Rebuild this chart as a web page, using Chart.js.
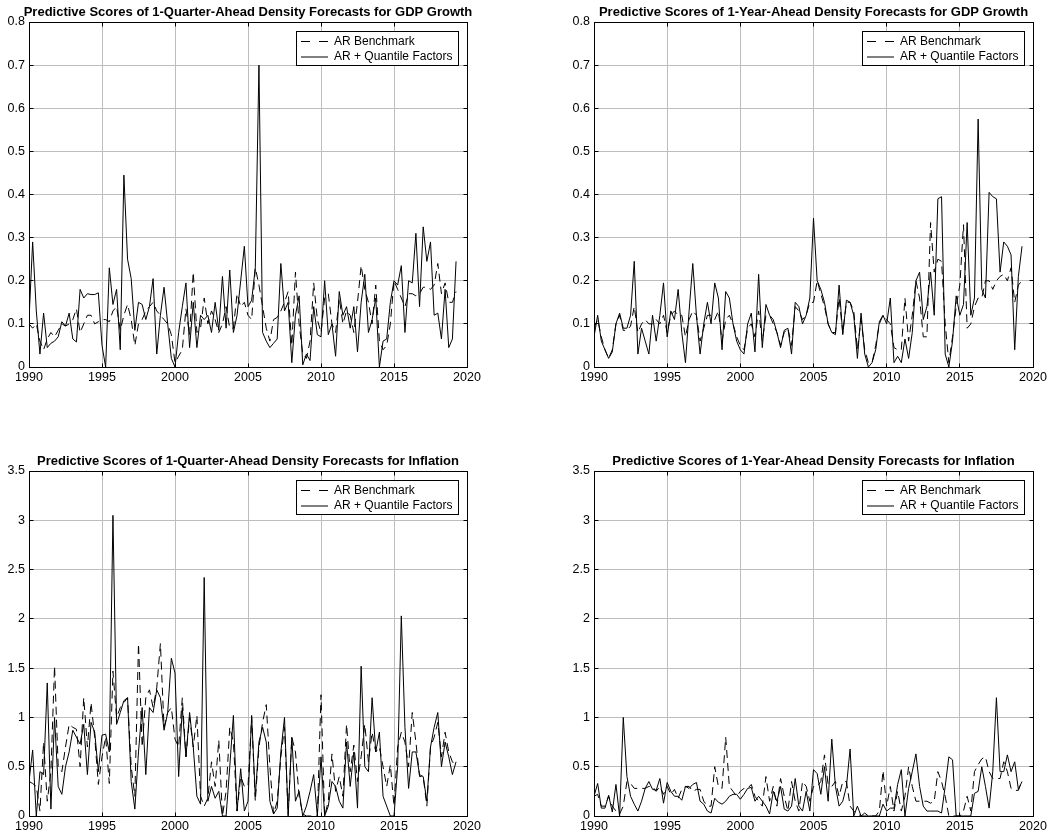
<!DOCTYPE html>
<html>
<head>
<meta charset="utf-8">
<script src="https://cdn.jsdelivr.net/npm/chart.js@4.4.1/dist/chart.umd.min.js"></script>
<style>
  html, body { margin: 0; padding: 0; background: #fff; overflow: hidden; }
  #page { position: relative; width: 1051px; height: 838px; overflow: hidden; }
  .panel { position: absolute; }
</style>
</head>
<body>
<div id="page">
  <div class="panel" style="left:0;top:0;width:490px;height:389px"><canvas id="gdpQ"></canvas></div>
  <div class="panel" style="left:565px;top:0;width:486px;height:389px"><canvas id="gdpY"></canvas></div>
  <div class="panel" style="left:0;top:449px;width:490px;height:389px"><canvas id="infQ"></canvas></div>
  <div class="panel" style="left:565px;top:449px;width:486px;height:389px"><canvas id="infY"></canvas></div>
</div>
<script>
// quarterly dates, 1990Q1 .. 2019Q2
const quarters = Array.from({ length: 118 }, (_, i) => 1990 + i / 4);

const seriesNames = ['AR Benchmark', 'AR + Quantile Factors'];

// 1-quarter-ahead, GDP growth
const gdpQ_ar = [
  .1, .09, .1, .06, .04, .065, .08, .07, .085, .1,
  .095, .1, .11, .135, .08, .1, .12, .12, .1, .105,
  .11, .11, .105, .13, .14, .085, .12, .145, .11, .05,
  .1, .11, .13, .14, .15, .13, .12, .11, .1, .075,
  .01, .025, .04, .135, .075, .22, .08, .09, .16, .1,
  .13, .11, .08, .1, .14, .09, .09, .17, .14, .15,
  .12, .11, .23, .19, .14, .09, .06, .11, .115, .13,
  .15, .175, .05, .22, .1, .03, .02, .06, .195, .11,
  .08, .16, .17, .1, .08, .16, .1, .13, .12, .08,
  .15, .235, .18, .15, .1, .19, .06, .04, .05, .1,
  .2, .18, .16, .14, .17, .17, .165, .17, .185, .185,
  .18, .19, .24, .17, .195, .15, .15, .175
];
const gdpQ_qf = [
  .11, .29, .13, .03, .125, .045, .055, .06, .07, .105,
  .095, .125, .065, .058, .18, .16, .17, .168, .168, .172,
  .05, 0, .23, .145, .18, .04, .445, .25, .205, .085,
  .15, .145, .11, .14, .205, .03, .12, .185, .1, .02,
  0, .08, .14, .195, .045, .15, .045, .12, .11, .12,
  .08, .15, .085, .21, .09, .225, .08, .12, .2, .28,
  .14, .155, .23, .70, .08, .06, .045, .055, .065, .24,
  .13, .15, .01, .12, .165, .005, .03, .015, .14, .075,
  .07, .2, .075, .1, .025, .175, .12, .14, .09, .14,
  .035, .15, .215, .08, .11, .16, 0, .06, .065, .15,
  .2, .19, .235, .08, .2, .195, .31, .14, .325, .245,
  .29, .12, .125, .065, .18, .045, .065, .245
];

// 1-year-ahead, GDP growth
const gdpY_ar = [
  .09, .11, .07, .04, .02, .04, .1, .12, .085, .085,
  .095, .14, .08, .1, .11, .1, .1, .11, .1, .12,
  .08, .12, .13, .12, .12, .07, .11, .13, .12, .06,
  .09, .12, .12, .11, .13, .06, .11, .12, .1, .07,
  .05, .04, .09, .1, .07, .13, .06, .12, .12, .1,
  .08, .05, .08, .09, .05, .14, .13, .11, .12, .15,
  .15, .2, .17, .14, .1, .08, .08, .16, .08, .15,
  .15, .13, .04, .11, .04, .01, .01, .05, .1, .12,
  .11, .1, .045, .04, .04, .16, .06, .12, .2, .16,
  .07, .07, .335, .22, .25, .245, .1, .01, .07, .14,
  .19, .33, .09, .1, .14, .16, .16, .2, .2, .18,
  .2, .21, .215, .2, .23, .15, .19, .2
];
const gdpY_qf = [
  .07, .12, .06, .04, .02, .035, .1, .125, .09, .09,
  .12, .245, .03, .09, .06, .03, .12, .06, .12, .195,
  .07, .13, .11, .18, .08, .01, .13, .24, .12, .03,
  .1, .15, .1, .195, .16, .04, .175, .16, .1, .06,
  .04, .03, .1, .125, .035, .215, .045, .145, .12, .11,
  .08, .045, .085, .09, .03, .15, .14, .1, .12, .16,
  .345, .2, .18, .15, .1, .08, .075, .19, .075, .155,
  .15, .12, .02, .125, .03, 0, .01, .04, .105, .12,
  .1, .16, .01, .025, .01, .065, .02, .08, .2, .22,
  .11, .14, .22, .12, .39, .395, .03, 0, .06, .165,
  .12, .145, .335, .12, .16, .575, .18, .16, .405, .395,
  .39, .22, .29, .28, .26, .04, .21, .28
];

// 1-quarter-ahead, inflation
const infQ_ar = [
  .35, .33, .3, .05, .75, .15, .45, 1.52, .5, .45,
  .7, .93, .9, .88, .5, 1.2, .7, 1.15, .8, .32,
  .6, .8, .33, 1.47, 1.0, 1.1, 1.15, 1.2, .5, .2,
  1.75, .7, 1.2, 1.28, 1.1, 1.3, 1.75, .9, 1.05, 1.1,
  .78, .7, 1.2, .6, 1.0, .7, 1.02, .2, .1, .18,
  .55, .3, .77, 0, .25, .9, .75, .05, .4, .3,
  .3, 1.0, .15, .7, .95, 1.13, .5, .02, .15, .6,
  .9, .02, .8, .65, .2, .02, 0, 0, 0, 0,
  1.23, 0, .15, .63, .25, .4, .2, .93, .45, .72,
  .35, .6, .93, .55, .85, .65, .7, .5, .3, .52,
  .1, .7, .85, .75, .5, 1.05, .75, .4, .4, .1,
  .7, .8, .95, .6, .85, .65, .55, .5
];
const infQ_qf = [
  .35, .67, 0, .45, .42, 1.35, .07, 1.0, .3, .22,
  .5, .65, .87, .8, .73, .93, .42, .95, .85, .45,
  .82, .83, .65, 3.05, .93, 1.05, 1.17, 1.2, .35, .07,
  .65, 1.1, .42, 1.1, 1.05, 1.28, 1.2, .87, 1.05, 1.6,
  1.45, .4, 1.1, .6, 1.05, .7, .2, .12, 2.42, .15,
  .3, .18, .25, 0, 0, .5, 1.02, .05, .48, .05,
  .15, 1.02, .2, .75, .9, .75, .15, .02, .08, .65,
  1.0, 0, .8, .15, .25, 0, .1, .25, .42, 0,
  .6, 0, .1, .35, .3, .15, .08, .75, .3, .65,
  .08, 1.52, .5, .45, 1.2, .65, .85, .2, .1, 0,
  0, .5, 2.03, .9, .28, .65, .65, .42, .4, .15,
  .7, .9, 1.05, .5, .75, .6, .42, .55
];

// 1-year-ahead, inflation
const infY_ar = [
  .2, .22, .1, .1, .2, .1, .05, .02, .1, .35,
  .33, .28, .28, .28, .28, .3, .3, .25, .3, .22,
  .3, .22, .27, .18, .27, .3, .3, .25, .27, .27,
  .15, .1, .1, .5, .3, .28, .8, .3, .25, .2,
  .25, .28, .28, .32, .2, .15, .1, .4, .15, .3,
  .1, .38, .2, .05, .35, .15, .05, .35, .3, .15,
  .3, .3, .35, .62, .32, .3, .35, .2, .35, .35,
  .1, .05, .02, 0, 0, 0, 0, 0, .05, .46,
  .1, .3, .05, .25, .05, .2, .5, .3, .15, .15,
  .15, .15, .13, .15, .45, .35, .2, 0, 0, 0,
  0, .05, .2, .05, .45, .52, .58, .6, .45, .38,
  .38, .38, .55, .45, .28, .26, .26, .36
];
const infY_qf = [
  .2, .33, .08, .08, .21, .04, .32, 0, 1.0, .4,
  .2, .12, .05, .15, .28, .35, .27, .26, .38, .13,
  .34, .25, .2, .2, .16, .3, .28, .32, .34, .15,
  .12, .05, .03, .18, .14, .12, .15, .2, .22, .22,
  .17, .22, .28, .29, .15, .2, .15, .1, .02, .25,
  .15, .3, .07, .05, .1, .38, .1, .05, .25, .05,
  .47, .43, .22, .5, .15, .78, .3, .1, .15, .3,
  .68, 0, .1, 0, .03, 0, 0, 0, 0, .12,
  .05, .08, .08, .32, .47, 0, .28, .45, .63, .3,
  .1, .05, .05, .05, .05, .03, .3, .6, .57, 0,
  0, 0, 0, 0, .23, .25, .5, .3, .08, .45,
  1.2, .45, .45, .62, .45, .55, .27, .35
];

Chart.defaults.font.family = '"Liberation Sans", Arial, Helvetica, sans-serif';
Chart.defaults.font.size = 12.5;
Chart.defaults.color = '#000';

const pix = v => Math.round(v - 0.5) + 0.5;

// title over the plot, box round it, inward tick marks and the boxed legend
const matlabAxes = {
  id: 'matlabAxes',
  afterDraw(chart, args, opts) {
    const { ctx, chartArea: a, scales } = chart;
    const L = pix(a.left), R = pix(a.right), T = pix(a.top), B = pix(a.bottom);
    ctx.save();

    // title, centred on the plot area (it is wider than the plot)
    ctx.fillStyle = '#000';
    ctx.font = 'bold 13px "Liberation Sans", Arial, sans-serif';
    ctx.textAlign = 'center';
    ctx.textBaseline = 'middle';
    ctx.fillText(opts.title, (a.left + a.right) / 2, a.top - 10);
    ctx.textAlign = 'left';

    ctx.strokeStyle = '#000';
    ctx.lineWidth = 1;
    ctx.strokeRect(L, T, R - L, B - T);

    ctx.beginPath();
    scales.x.ticks.forEach(t => {
      const px = pix(scales.x.getPixelForValue(t.value));
      ctx.moveTo(px, T); ctx.lineTo(px, T + 4);
      ctx.moveTo(px, B); ctx.lineTo(px, B - 4);
    });
    scales.y.ticks.forEach(t => {
      const py = pix(scales.y.getPixelForValue(t.value));
      ctx.moveTo(L, py); ctx.lineTo(L + 4, py);
      ctx.moveTo(R, py); ctx.lineTo(R - 4, py);
    });
    ctx.stroke();

    const w = 162, h = 34;
    const x0 = Math.round(a.right - 9 - w), y0 = Math.round(a.top + 9);
    ctx.fillStyle = '#fff';
    ctx.fillRect(x0, y0, w, h);
    ctx.strokeRect(x0 + 0.5, y0 + 0.5, w, h);
    ctx.font = '12px "Liberation Sans", Arial, sans-serif';
    chart.data.datasets.forEach((ds, i) => {
      const y = y0 + 10.5 + i * 15.5;
      ctx.setLineDash(ds.borderDash && ds.borderDash.length ? [9, 9] : []);
      ctx.beginPath();
      ctx.moveTo(x0 + 5, y);
      ctx.lineTo(x0 + 32, y);
      ctx.stroke();
      ctx.setLineDash([]);
      ctx.fillStyle = '#000';
      ctx.fillText(ds.label, x0 + 38, y);
    });
    ctx.restore();
  }
};

function makePanel(canvasId, title, yMax, yStep, arValues, qfValues, rightPad) {
  const canvas = document.getElementById(canvasId);
  const toPoints = values => quarters.map((q, i) => ({ x: q, y: values[i] }));

  new Chart(canvas, {
    type: 'line',
    data: {
      datasets: [
        {
          label: seriesNames[0],
          data: toPoints(arValues),
          borderColor: '#000',
          borderWidth: 1,
          borderDash: [8, 5],
          pointRadius: 0,
          tension: 0,
          fill: false,
        },
        {
          label: seriesNames[1],
          data: toPoints(qfValues),
          borderColor: '#000',
          borderWidth: 1,
          pointRadius: 0,
          tension: 0,
          fill: false,
        },
      ],
    },
    options: {
      responsive: true,
      maintainAspectRatio: false,
      animation: false,
      layout: { padding: { left: 0, right: rightPad, top: 22, bottom: 0 } },
      plugins: {
        legend: { display: false },
        tooltip: { enabled: false },
        title: { display: false },
        matlabAxes: { title: title },
      },
      scales: {
        x: {
          type: 'linear',
          min: 1990,
          max: 2020,
          afterFit: s => { s.height = 22; },
          ticks: { stepSize: 5, padding: 3, maxRotation: 0, autoSkip: false, callback: v => String(v) },
          grid: { color: '#bdbdbd', drawTicks: false },
          border: { display: false },
        },
        y: {
          min: 0,
          max: yMax,
          afterFit: s => { s.width = 29; },
          ticks: { stepSize: yStep, padding: 4, callback: v => String(+v.toFixed(1)) },
          grid: { color: '#bdbdbd', drawTicks: false },
          border: { display: false },
        },
      },
    },
    plugins: [matlabAxes],
  });
}

makePanel('gdpQ', 'Predictive Scores of 1-Quarter-Ahead Density Forecasts for GDP Growth', 0.8, 0.1, gdpQ_ar, gdpQ_qf, 23);
makePanel('gdpY', 'Predictive Scores of 1-Year-Ahead Density Forecasts for GDP Growth', 0.8, 0.1, gdpY_ar, gdpY_qf, 18);
makePanel('infQ', 'Predictive Scores of 1-Quarter-Ahead Density Forecasts for Inflation', 3.5, 0.5, infQ_ar, infQ_qf, 23);
makePanel('infY', 'Predictive Scores of 1-Year-Ahead Density Forecasts for Inflation', 3.5, 0.5, infY_ar, infY_qf, 18);
</script>
</body>
</html>
